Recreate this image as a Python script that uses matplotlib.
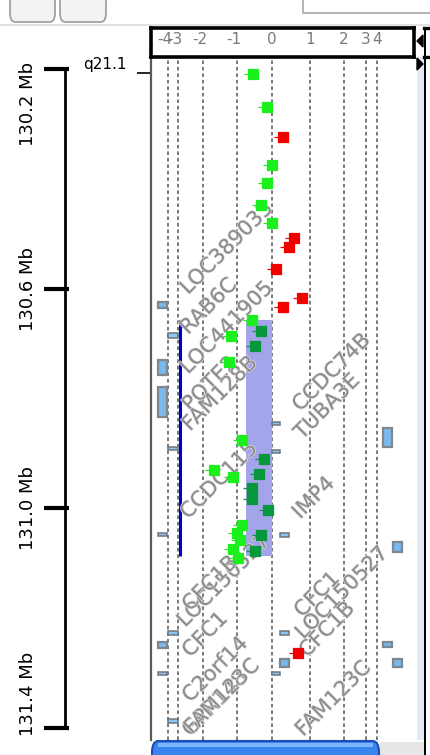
import matplotlib
matplotlib.use("Agg")
import matplotlib.pyplot as plt
import matplotlib.patheffects as pe
import numpy as np
from matplotlib.patches import Rectangle, FancyBboxPatch, Polygon
from matplotlib.path import Path

W, H = 431, 755

# ---- chart data -------------------------------------------------------
tick_values = [-4, -3, -2, -1, 0, 1, 2, 3, 4]
tick_labels = ["-4", "-3", "-2", "-1", "0", "1", "2", "3", "4"]
mb_ticks = [130.2, 130.6, 131.0, 131.4]
mb_labels = ["130.2 Mb", "130.6 Mb", "131.0 Mb", "131.4 Mb"]
band_name = "q21.1"

# probe log-ratios along the region
probe_mb = [130.209, 130.269, 130.324, 130.375, 130.408, 130.448, 130.481,
            130.508, 130.524, 130.564, 130.617, 130.634, 130.657, 130.677,
            130.686, 130.705, 130.734, 130.876, 130.910, 130.930, 130.938,
            130.943, 130.963, 130.983, 131.003, 131.031, 131.045, 131.049,
            131.058, 131.074, 131.078, 131.091, 131.264]
probe_value = [-0.54, -0.14, 0.29, 0.00, -0.14, -0.31, 0.00,
               0.58, 0.45, 0.11, 0.79, 0.29, -0.57, -0.31,
               -1.18, -0.49, -1.24, -0.86, -0.23, -1.68, -0.37,
               -1.12, -0.57, -0.57, -0.11, -0.86, -1.00, -0.31,
               -0.91, -1.12, -0.49, -0.97, 0.68]
probe_call = ["loss", "loss", "gain", "loss", "loss", "loss", "loss",
              "gain", "gain", "gain", "gain", "gain", "loss", "seg",
              "loss", "seg", "loss", "loss", "seg", "loss", "seg",
              "loss", "seg", "seg", "seg", "loss", "loss", "seg",
              "loss", "loss", "seg", "loss", "gain"]

# called segment
seg_start, seg_end = 130.657, 131.087
seg_low, seg_high = -0.74, 0.0
seg_mark = -2.92

# known copy number variants / genes (glyphs)
feat_start = [130.624, 130.681, 130.730, 130.779, 130.843, 130.889, 130.894,
              130.854, 131.045, 131.045, 131.062, 131.224, 131.224, 131.244,
              131.244, 131.275, 131.275, 131.298, 131.298, 131.384]
feat_end = [130.635, 130.690, 130.757, 130.834, 130.848, 130.894, 130.899,
            130.889, 131.051, 131.052, 131.080, 131.231, 131.231, 131.255,
            131.253, 131.289, 131.289, 131.304, 131.304, 131.391]
feat_lane = ["A", "B", "A", "A", "C", "B", "C", "E", "A", "D", "F", "B", "D",
             "A", "E", "D", "F", "A", "C", "B"]
feat_kind = ["box", "thin", "box", "box", "thin", "thin", "thin", "box",
             "thin", "thin", "box", "thin", "thin", "box", "box", "box",
             "box", "thin", "thin", "thin"]

gene_names = ["LOC389033", "RAB6C", "LOC441905", "POTE2", "FAM128B",
              "CCDC74B", "TUBA3E", "CCDC115", "IMP4", "LOC150527", "CFC1B",
              "CFC1", "C2orf14", "GPR148", "FAM123C", "CFC1", "LOC150527",
              "CFC1B", "FAM123C"]
gene_mb = [130.612, 130.685, 130.757, 130.825, 130.861, 130.825, 130.876,
           131.021, 131.021, 131.218, 131.189, 131.273, 131.355, 131.417,
           131.413, 131.200, 131.240, 131.273, 131.417]
gene_x = [-2.6, -2.6, -2.6, -2.52, -2.52, 0.74, 0.79, -2.6, 0.74, -2.72,
          -2.52, -2.52, -2.52, -2.52, -2.44, 0.79, 0.82, 0.92, 0.82]

# ---- axis scale (non-linear log-ratio axis) ---------------------------
KV = np.array([-1000, -4, -3, -2, -1, 0, 1, 2, 3, 4, 1000], float)
KP = np.array([168 - 996 * 10, 168, 178, 203, 237, 272, 310, 344, 366, 377,
               377 + 996 * 11], float)


def fwd(x):
    return np.interp(x, KV, KP)


def inv(p):
    return np.interp(p, KP, KV)


PX_PER_MB = 549.0


def px_to_mb(py):
    return 130.2 + (py - 69) / PX_PER_MB


def fbox(x0, y0, x1, y1):
    return [x0 / W, 1 - y1 / H, (x1 - x0) / W, (y1 - y0) / H]


# square probe marker with a short whisker on its left
probe_marker = Path(
    [(-0.5, -0.5), (0.5, -0.5), (0.5, 0.5), (-0.5, 0.5), (-0.5, -0.5),
     (-0.85, 0.0), (-0.5, 0.0)],
    [Path.MOVETO, Path.LINETO, Path.LINETO, Path.LINETO, Path.CLOSEPOLY,
     Path.MOVETO, Path.LINETO])

fig = plt.figure(figsize=(W / 100, H / 100), dpi=100)
fig.patch.set_facecolor("white")

# ---- main panel --------------------------------------------------------
ax = fig.add_axes(fbox(151, 57, 417, 740))
ax.set_xscale("function", functions=(fwd, inv))
ax.set_xlim(float(inv(151)), float(inv(417)))
ax.set_ylim(px_to_mb(740), px_to_mb(57))
ax.set_xticks([])
ax.set_yticks([])
for side in ["top", "right", "bottom"]:
    ax.spines[side].set_visible(False)
ax.spines["left"].set_color("#5a5a5a")
ax.spines["left"].set_linewidth(1.6)

for v in tick_values:
    ax.axvline(v, color="#6e6e6e", lw=1.3, linestyle=(0, (2.0, 1.6)), zorder=1)

ax.add_patch(Rectangle((seg_low, seg_start), seg_high - seg_low,
                       seg_end - seg_start, facecolor="#a4a4ea",
                       edgecolor="none", zorder=2))
ax.vlines(seg_mark, seg_start, seg_end, color="#0000c8", lw=2.2, zorder=3)

lane_x = {"A": (-5.0, -4.1), "B": (-4.0, -3.0), "C": (0.0, 0.21),
          "D": (0.21, 0.45), "E": (4.55, 5.36), "F": (5.45, 6.27)}
for s, e, lane, kind in zip(feat_start, feat_end, feat_lane, feat_kind):
    x0, x1 = lane_x[lane]
    if kind == "box":
        ax.add_patch(Rectangle((x0, s), x1 - x0, e - s, facecolor="#7ab9ec",
                               edgecolor="#7d8790", lw=1.6, zorder=3))
    else:
        ax.add_patch(Rectangle((x0, s), x1 - x0, e - s, facecolor="#8cc6f0",
                               edgecolor="#6c7680", lw=1.1, zorder=3))

colors = {"loss": "#1cf01c", "gain": "#f20000", "seg": "#07973c"}
pm = np.array(probe_mb)
pv = np.array(probe_value)
pc = np.array(probe_call)
for call in ["loss", "seg", "gain"]:
    m = pc == call
    ax.scatter(pv[m], pm[m], marker=probe_marker, s=150, color=colors[call],
               edgecolors=colors[call], linewidths=0.9, zorder=5)

for name, x, y in zip(gene_names, gene_x, gene_mb):
    ax.text(x, y, name, rotation=45, rotation_mode="anchor", ha="left",
            va="baseline", fontsize=15, color="#8c8c8c", clip_on=True,
            zorder=4,
            path_effects=[pe.withStroke(linewidth=1.0, foreground="#dedede")])

# ---- header scale box --------------------------------------------------
hx = fig.add_axes(fbox(151, 28, 414, 57))
hx.set_xscale("function", functions=(fwd, inv))
hx.set_xlim(float(inv(151)), float(inv(414)))
hx.set_ylim(0, 1)
hx.set_xticks([])
hx.set_yticks([])
for sp in hx.spines.values():
    sp.set_linewidth(2.6)
    sp.set_color("black")
for v, lab in zip(tick_values, tick_labels):
    # negative labels keep their digit on the grid line
    ha = "right" if lab.startswith("-") else "center"
    off = 4 if lab.startswith("-") else 0
    hx.annotate(lab, (v, 0.62), xytext=(off, 0), textcoords="offset pixels",
                ha=ha, va="center", fontsize=11, color="#7a7a7a")

# ---- chromosome ruler --------------------------------------------------
rx = fig.add_axes(fbox(0, 57, 150, 740), sharey=ax)
rx.set_xlim(0, 150)
rx.axis("off")
rx.vlines(65, mb_ticks[0], mb_ticks[-1], color="black", lw=2)
rx.hlines(mb_ticks, 44, 69, color="black", lw=3)
for i, (t, lab) in enumerate(zip(mb_ticks, mb_labels)):
    if i == 0:
        va, dy = "top", 7
    elif i == len(mb_ticks) - 1:
        va, dy = "bottom", -8
    else:
        va, dy = "center", 0
    rx.annotate(lab, (28, t), xytext=(0, dy), textcoords="offset pixels",
                rotation=90, ha="center", va=va, fontsize=13, color="black")
rx.annotate(band_name, (105, mb_ticks[0]), xytext=(0, 4),
            textcoords="offset pixels", ha="center", va="center",
            fontsize=11, color="black")
rx.hlines(mb_ticks[0] + 4 / PX_PER_MB, 137, 150, color="black", lw=1.2)

# ---- window chrome -----------------------------------------------------
for x0, x1 in [(10, 55), (60, 106)]:
    fig.add_artist(FancyBboxPatch((x0 / W, 1 - 22 / H), (x1 - x0) / W, 30 / H,
                                  boxstyle="round,pad=0,rounding_size=0.012",
                                  transform=fig.transFigure,
                                  facecolor="#f3f3f3", edgecolor="#9a9a9a",
                                  lw=1.2))
fig.add_artist(Rectangle((0, 1 - 26 / H), 1, 2 / H, transform=fig.transFigure,
                         facecolor="#e2e2e2", edgecolor="none"))
fig.add_artist(plt.Line2D([303 / W, 303 / W, 1], [1, 1 - 13 / H, 1 - 13 / H],
                          transform=fig.transFigure, color="#a8a8a8", lw=1.2))

# right side strip, border and second header
fig.add_artist(Rectangle((417 / W, 1 - 740 / H), 7 / W, 683 / H,
                         transform=fig.transFigure, facecolor="#e4e9f6",
                         edgecolor="none"))
fig.add_artist(Rectangle((424 / W, 0), 2.5 / W, 1 - 28 / H,
                         transform=fig.transFigure, facecolor="black",
                         edgecolor="none"))
fig.add_artist(plt.Line2D([424 / W, 1], [1 - 28 / H, 1 - 28 / H],
                          transform=fig.transFigure, color="black", lw=2.4))
fig.add_artist(plt.Line2D([424 / W, 1], [1 - 57 / H, 1 - 57 / H],
                          transform=fig.transFigure, color="black", lw=2.4))
fig.add_artist(Polygon([[423 / W, 1 - 35 / H], [423 / W, 1 - 47 / H],
                        [417 / W, 1 - 41 / H]], closed=True,
                       transform=fig.transFigure, color="black"))
fig.add_artist(Polygon([[417 / W, 1 - 58 / H], [417 / W, 1 - 70 / H],
                        [423 / W, 1 - 64 / H]], closed=True,
                       transform=fig.transFigure, color="black"))

# bottom scrollbar
fig.add_artist(Rectangle((380 / W, 0), 44 / W, 13 / H,
                         transform=fig.transFigure, facecolor="#e6e6e6",
                         edgecolor="none"))
fig.add_artist(FancyBboxPatch((152 / W, -10 / H), 227 / W, 24 / H,
                              boxstyle="round,pad=0,rounding_size=0.015",
                              transform=fig.transFigure, facecolor="#3a84ee",
                              edgecolor="#1d4db5", lw=1.5))
fig.add_artist(Rectangle((158 / W, 8 / H), 215 / W, 4 / H,
                         transform=fig.transFigure, facecolor="#8cc2ff",
                         edgecolor="none", alpha=0.8))

fig.savefig("out.png", dpi=100, facecolor=fig.get_facecolor())
